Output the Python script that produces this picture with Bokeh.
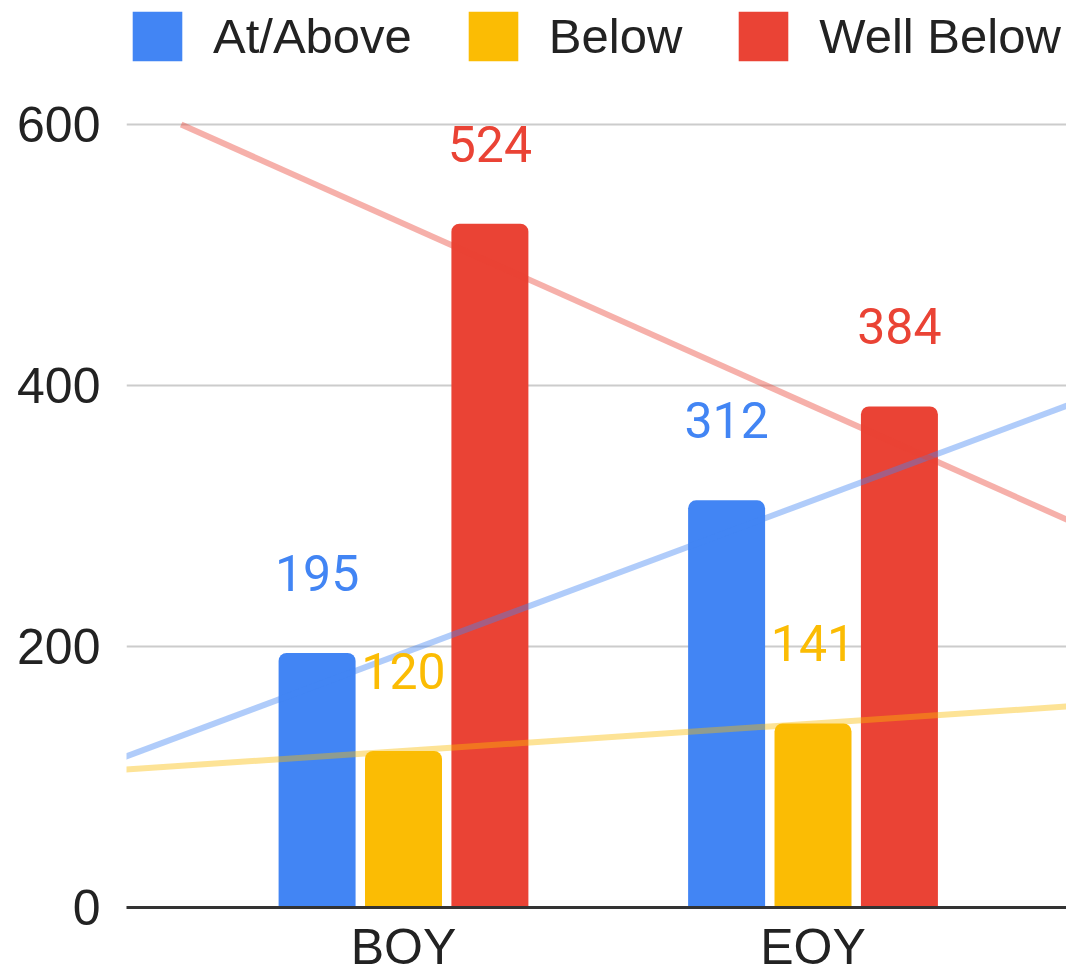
import numpy as np
from bokeh.plotting import figure
from bokeh.models import Range1d, FixedTicker, Legend, LegendItem
from bokeh.core.properties import value
from bokeh.embed import file_html
from bokeh.resources import INLINE

categories = ["BOY", "EOY"]
series_names = ["At/Above", "Below", "Well Below"]
at_above = [195, 312]
below = [120, 141]
well_below = [524, 384]
colors = ["#4285F4", "#FBBC04", "#EA4335"]
y_ticks = [0, 200, 400, 600]

series_values = [at_above, below, well_below]
cat_x = np.arange(1, len(categories) + 1, dtype=float)
offsets = [-0.211, 0.0, 0.211]
bar_w = 0.188
y_top = max(y_ticks)

# frame spans the whole height so the legend sits inside it; the axis
# scale keeps 600 at the same place as the chart's top gridline
p = figure(width=1066, height=977, output_backend="svg", toolbar_location=None,
           x_range=Range1d(0.3236, 2.619), y_range=Range1d(0, y_top * 907 / 783),
           min_border_left=126, min_border_right=0, min_border_top=0,
           min_border_bottom=70, background_fill_color="white",
           border_fill_color="white")
p.outline_line_color = None

bar_renderers = []
for vals, col, off in zip(series_values, colors, offsets):
    r = p.vbar(x=cat_x + off, top=vals, bottom=0, width=bar_w, fill_color=col,
               line_color=None, border_radius=(8, 8, 0, 0))
    bar_renderers.append(r)

# linear trendlines through category positions, kept below the top gridline
for vals, col in zip(series_values, colors):
    k, b = np.polyfit(cat_x, np.array(vals, dtype=float), 1)
    x0, x1 = 0.0, 3.0
    if k < 0:
        x0 = max(x0, (y_top - b) / k)
    elif k > 0:
        x1 = min(x1, (y_top - b) / k)
    xs = np.array([x0, x1])
    p.line(xs, k * xs + b, line_color=col, line_alpha=0.42, line_width=6)

for vals, col, off in zip(series_values, colors, offsets):
    p.text(x=cat_x + off, y=vals, text=[str(v) for v in vals],
           text_font=value("Roboto"), text_font_size="50px", text_color=col,
           text_align="center", text_baseline="alphabetic", y_offset=-80)

p.xgrid.visible = False
p.ygrid.ticker = FixedTicker(ticks=y_ticks)
p.ygrid.grid_line_color = "#cccccc"
p.ygrid.grid_line_width = 2

p.yaxis.ticker = FixedTicker(ticks=y_ticks)
p.yaxis.axis_line_color = None
p.yaxis.major_tick_line_color = None
p.yaxis.minor_tick_line_color = None
p.yaxis.major_tick_out = 0
p.yaxis.major_label_standoff = 26
p.yaxis.major_label_text_font = "Liberation Sans"
p.yaxis.major_label_text_font_size = "50px"
p.yaxis.major_label_text_color = "#222222"

p.xaxis.ticker = FixedTicker(ticks=list(cat_x))
p.xaxis.major_label_overrides = {float(x): c for x, c in zip(cat_x, categories)}
p.xaxis.axis_line_color = "#333333"
p.xaxis.axis_line_width = 3
p.xaxis.major_tick_line_color = None
p.xaxis.minor_tick_line_color = None
p.xaxis.major_tick_out = 0
p.xaxis.major_label_standoff = 11
p.xaxis.major_label_text_font = "Liberation Sans"
p.xaxis.major_label_text_font_size = "50px"
p.xaxis.major_label_text_color = "#222222"

legend = Legend(items=[LegendItem(label=n, renderers=[r]) for n, r in zip(series_names, bar_renderers)],
                location=(0, 840), orientation="horizontal",
                glyph_width=62, glyph_height=62, label_standoff=25, spacing=50,
                padding=0, margin=0, border_line_color=None, background_fill_alpha=0,
                label_text_font="Liberation Sans", label_text_font_size="49px",
                label_text_line_height=1.0, label_text_color="#222222")
p.add_layout(legend)

open("out.html", "w").write(file_html(p, INLINE))
